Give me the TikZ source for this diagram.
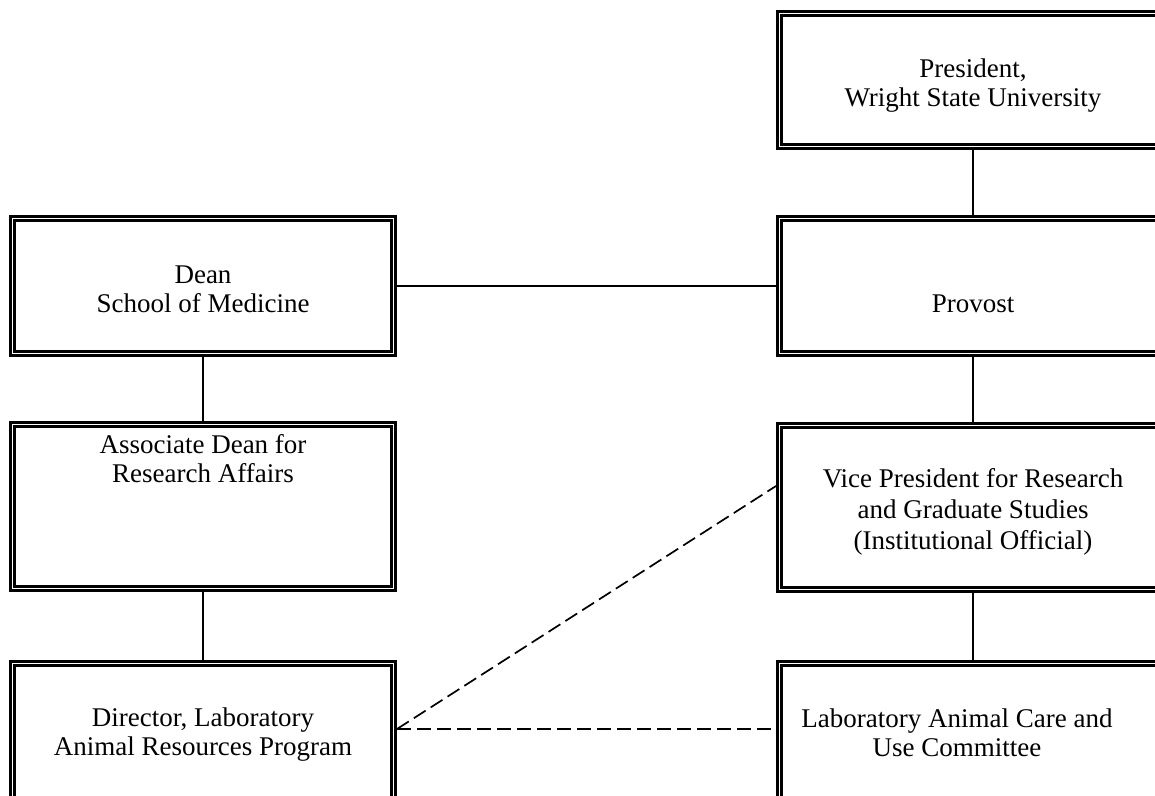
\documentclass[tikz,border=0pt]{standalone}
\usepackage{fontspec}
\setmainfont{Liberation Serif}
\begin{document}
\begin{tikzpicture}[x=0.5pt,y=-0.5pt,
    orgbox/.style={draw,double,double distance=0.8pt,line width=1.3pt,outer sep=1.7pt,
      inner sep=0pt,minimum width=190.6pt,minimum height=67.6pt},
    widebox/.style={orgbox,minimum width=193.6pt},
    orgtext/.style={align=center,font=\fontsize{13.5}{14.5}\selectfont},
    link/.style={line width=1pt},
    dashlink/.style={line width=0.85pt,dash pattern=on 7pt off 3pt}]
  \useasboundingbox (0,0) rectangle (1155,796);
  \clip (0,0) rectangle (1155,796);

  % right column
  \node[widebox,minimum height=66.6pt] (pres) at (973,80) {};
  \node[widebox] (prov) at (973,286) {};
  \node[widebox,minimum height=82.1pt] (vp) at (973,507.5) {};
  \node[widebox,minimum height=82.1pt] (lac) at (973,745.5) {};

  % left column
  \node[orgbox] (dean) at (203,286) {};
  \node[orgbox,minimum height=82.1pt] (assoc) at (203,506.5) {};
  \node[orgbox,minimum height=82.1pt] (dir) at (203,745.5) {};

  \node[orgtext] (pres-t) at ([yshift=-3pt]pres.center) {President,\\Wright State University};
  \node[orgtext] (prov-t) at ([yshift=-9pt]prov.center) {Provost};
  \node[orgtext,font=\fontsize{13.5}{15.5}\selectfont] (vp-t) at ([yshift=-2pt]vp.center) {Vice President for Research\\and Graduate Studies\\(Institutional Official)};
  \node[orgtext] (lac-t) at ([xshift=-8pt,yshift=6.5pt]lac.center) {Laboratory Animal Care and\\Use Committee};
  \node[orgtext] (dean-t) at ([yshift=-1.5pt]dean.center) {Dean\\School of Medicine};
  \node[orgtext] (assoc-t) at ([yshift=24pt]assoc.center) {Associate Dean for\\Research Affairs};
  \node[orgtext] (dir-t) at ([yshift=5.5pt]dir.center) {Director, Laboratory\\Animal Resources Program};

  \draw[link] (pres) -- (prov);
  \draw[link] (prov) -- (vp);
  \draw[link] (vp) -- (lac);
  \draw[link] (dean) -- (prov);
  \draw[link] (dean) -- (assoc);
  \draw[link] (assoc) -- (dir);

  \coordinate (dirR) at ([yshift=8.25pt]dir.east);
  \coordinate (vpL) at ([yshift=10.75pt]vp.west);
  \coordinate (lacL) at (lac.west |- dirR);
  \draw[dashlink] (dirR) -- (vpL);
  \draw[dashlink] (dirR) -- (lacL);
\end{tikzpicture}
\end{document}
